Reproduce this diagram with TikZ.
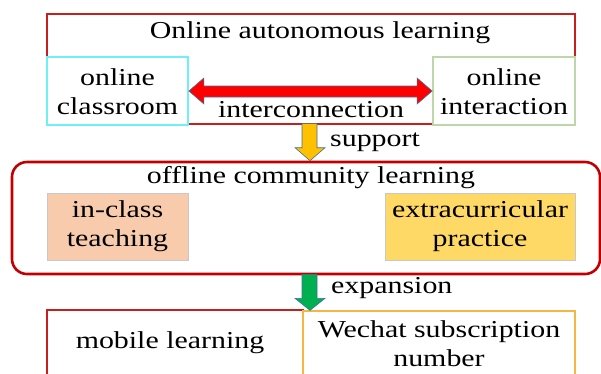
\documentclass[tikz,border=0pt]{standalone}
\usepackage{fontspec}
\setmainfont{Liberation Serif}[FakeStretch=1.23]
\usetikzlibrary{calc}
\definecolor{dred}{RGB}{192,0,0}
\definecolor{bred}{RGB}{200,30,30}
\definecolor{cyanb}{RGB}{110,240,245}
\definecolor{greenb}{RGB}{190,215,170}
\definecolor{salmon}{RGB}{248,203,173}
\definecolor{goldf}{RGB}{255,217,102}
\definecolor{suppf}{RGB}{255,192,0}
\definecolor{expf}{RGB}{0,176,80}
\definecolor{arrline}{RGB}{65,113,156}
\definecolor{orangeb}{RGB}{245,182,70}
\definecolor{grayb}{RGB}{200,200,200}
\begin{document}
\begin{tikzpicture}[x=1pt,y=-1pt,
  txt/.style={font=\fontsize{24.3}{29}\selectfont, align=center, inner sep=0pt},
  box/.style={inner sep=0pt, line width=1.2pt},
  blk/.style={draw=arrline, line width=0.6pt, line join=miter}]
\useasboundingbox (0,0) rectangle (601,373);
% top group
\node[box, draw=bred, minimum width=528, minimum height=110] (top) at (311,69) {};
\node[txt] (ttl) at (320,33) {Online autonomous learning};
\node[box, draw=cyanb, line width=1.8pt, fill=white, minimum width=141, minimum height=68] (cls) at (117.5,91) {};
\node[txt] (clst) at (117.5,91.5) {online\\classroom};
\node[box, draw=greenb, line width=1.8pt, fill=white, minimum width=142, minimum height=68] (int) at (504,91) {};
\node[txt] (intt) at (504,91.5) {online\\interaction};
\draw[blk, fill=red] (cls.east) -- ($(cls.east)+(15,-13)$) -- ($(cls.east)+(15,-5)$)
  -- ($(int.west)+(-15,-5)$) -- ($(int.west)+(-15,-13)$) -- (int.west)
  -- ($(int.west)+(-15,13)$) -- ($(int.west)+(-15,6)$)
  -- ($(cls.east)+(15,6)$) -- ($(cls.east)+(15,13)$) -- cycle;
\node[txt] (icn) at (311,110) {interconnection};
% offline group
\node[inner sep=0pt, draw=dred, line width=2.6pt, rounded corners=15pt, minimum width=588, minimum height=112] (off) at (306,218) {};
\node[txt] (offt) at (311,178) {offline community learning};
\node[box, draw=grayb, line width=0.8pt, fill=salmon, minimum width=141, minimum height=67] (icl) at (117.5,226.5) {};
\node[txt] (iclt) at (117.5,226) {in-class\\teaching};
\node[box, draw=grayb, line width=0.8pt, fill=goldf, minimum width=190, minimum height=67] (ext) at (480,226.5) {};
\node[txt] (extt) at (480,226) {extracurricular\\practice};
% support arrow
\draw[blk, fill=suppf] ($(top.south)+(-9,-1)$) -- ($(top.south)+(6,-1)$)
  -- ($(top.south |- off.north)+(6,-13)$) -- ($(top.south |- off.north)+(14,-13)$)
  -- ($(top.south |- off.north)+(-1,0)$) -- ($(top.south |- off.north)+(-16,-13)$)
  -- ($(top.south |- off.north)+(-9,-13)$) -- cycle;
\node[txt, anchor=west] (sup) at (330,142) {support};
% bottom group
\node[box, draw=bred, minimum width=256, minimum height=75] (mob) at (175,347.5) {};
\node[txt] (mobt) at (170,343) {mobile learning};
\node[box, draw=orangeb, line width=1.3pt, minimum width=272, minimum height=74] (wec) at (439,348) {};
\node[txt] (wect) at (439,343.5) {Wechat subscription\\number};
% expansion arrow
\draw[blk, fill=expf] ($(top.south |- off.south)+(-9,-1)$) -- ($(top.south |- off.south)+(6,-1)$)
  -- ($(top.south |- wec.north)+(6,-12)$) -- ($(top.south |- wec.north)+(14,-12)$)
  -- ($(top.south |- wec.north)+(-1,0)$) -- ($(top.south |- wec.north)+(-16,-12)$)
  -- ($(top.south |- wec.north)+(-9,-12)$) -- cycle;
\node[txt, anchor=west] (exp) at (331,288) {expansion};
\end{tikzpicture}
\end{document}
